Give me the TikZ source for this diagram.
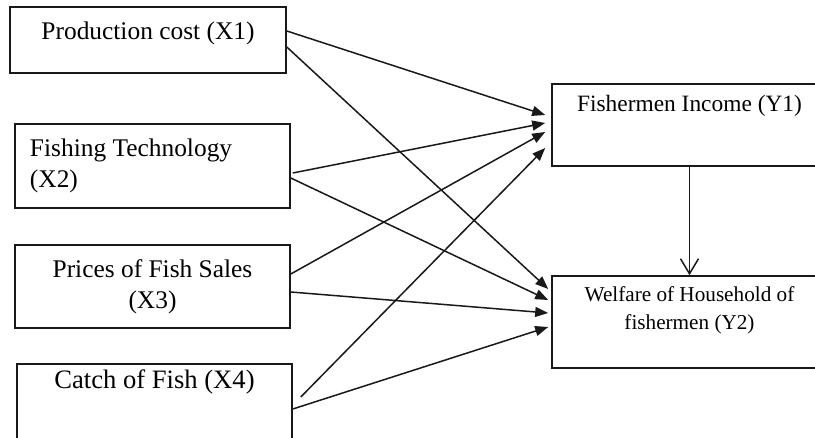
\documentclass[tikz,border=0pt]{standalone}
\usepackage{fontspec}
\setmainfont{Liberation Serif}
\usetikzlibrary{arrows.meta}
\begin{document}
\begin{tikzpicture}[x=1pt, y=-1pt, line width=1.5pt,
  var/.style={draw=black!90, line width=1.6pt, minimum width=275pt, inner ysep=0pt, align=center},
  fx/.style={font=\fontsize{25.4}{31}\selectfont},
  path/.style={-{Triangle[length=13pt, width=10pt]}, black!90}]
\useasboundingbox (0,0) rectangle (815,438);
\clip (0,0) rectangle (815,438);
\node[var, fx, minimum width=276pt, text height=32.5pt, text depth=33.5pt] (x1) at (148,40) {Production cost (X1)};
\node[var, fx, minimum height=84pt, align=flush left, text width=245pt, inner xsep=15pt] (x2) at (152.5,166) {Fishing Technology\\(X2)};
\node[var, fx, minimum height=83pt] (x3) at (152.5,286.5) {Prices of Fish Sales\\(X3)};
\node[var, font=\fontsize{26.6}{31}\selectfont, text height=25pt, text depth=59pt] (x4) at (154.5,406) {Catch of Fish (X4)};
\node[var, font=\fontsize{23.4}{29}\selectfont, text height=28pt, text depth=54pt] (y1) at (689.5,125) {Fishermen Income (Y1)};
\node[var, font=\fontsize{21.2}{28}\selectfont, text height=54pt, text depth=38pt] (y2) at (689.5,322) {Welfare of Household of\\fishermen (Y2)};
% to income
\draw[path] ([yshift=9pt]x1.east) -- ([xshift=-6pt, yshift=10pt]y1.west);
\draw[path] ([xshift=2pt, yshift=-7pt]x2.east) -- ([xshift=-6pt, yshift=2pt]y1.west);
\draw[path] ([yshift=12.5pt]x3.east) -- ([xshift=-6pt, yshift=-7pt]y1.west);
\draw[path] ([xshift=8pt, yshift=9pt]x4.east) -- ([xshift=-6pt, yshift=-23pt]y1.west);
% to welfare
\draw[path] ([yshift=-7pt]x1.east) -- ([xshift=-3pt, yshift=33pt]y2.west);
\draw[path] ([yshift=-12pt]x2.east) -- ([xshift=-3pt, yshift=22pt]y2.west);
\draw[path] ([yshift=-5.5pt]x3.east) -- ([xshift=-3pt, yshift=9pt]y2.west);
\draw[path] ([yshift=-3pt]x4.east) -- ([xshift=-3pt, yshift=-5pt]y2.west);
\draw[-{Straight Barb[length=15pt, width=18pt]}, black!90] (y1) -- (y2);
\end{tikzpicture}
\end{document}
